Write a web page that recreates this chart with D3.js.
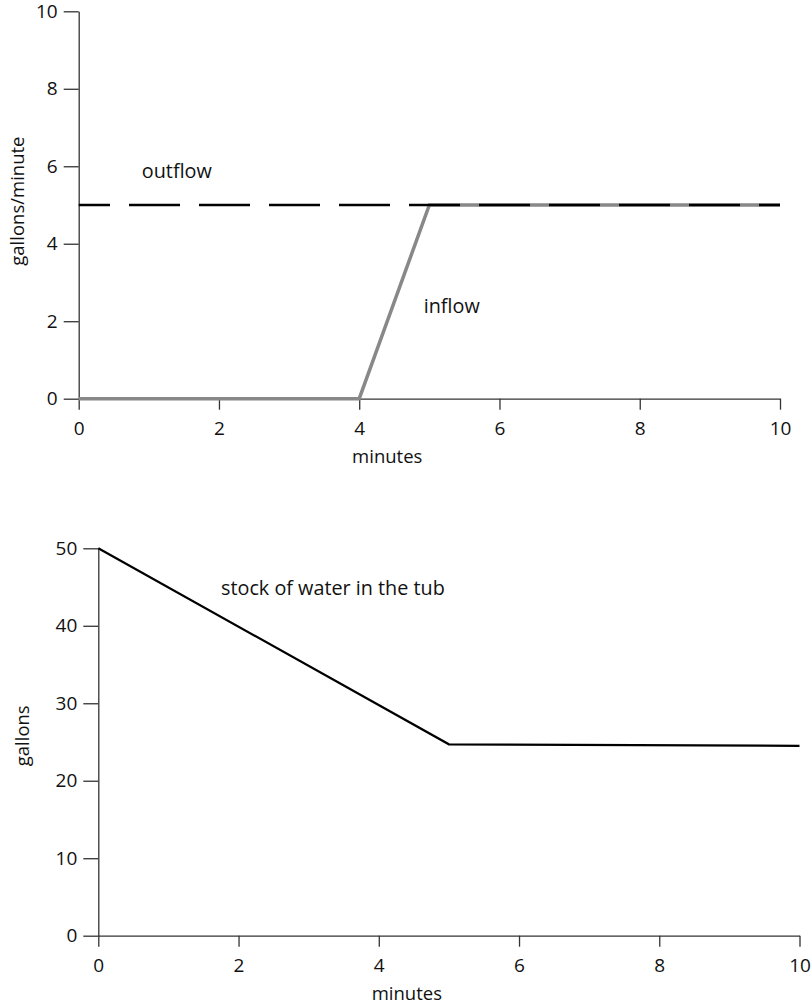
<!DOCTYPE html>
<html>
<head>
<meta charset="utf-8">
<script src="https://cdn.jsdelivr.net/npm/d3@7"></script>
<style>
  body { margin: 0; background: #fff; }
  svg text { font-family: "Open Sans", Lato, sans-serif; fill: #111; }
  .axis path, .axis line { stroke: #333; stroke-width: 1.3; }
</style>
</head>
<body>
<div class="chart"></div>
<script>
// data
var minutes = [0, 4, 5, 10];
var inflow = [0, 0, 5, 5];
var outflowMinutes = [0, 10];
var outflow = [5, 5];
var stockMinutes = [0, 5, 10];
var stockGallons = [50, 24.7, 24.5];
var xTicks = [0, 2, 4, 6, 8, 10];
var flowTicks = [0, 2, 4, 6, 8, 10];
var stockTicks = [0, 10, 20, 30, 40, 50];

var tickFont = 19, titleFont = 18.5, noteFont = 19.8;

var svg = d3.select('div.chart').append('svg')
  .attr('width', 812).attr('height', 1006);

// ---- top chart: flows
var x1 = d3.scaleLinear().domain([0, 10]).range([78.7, 780]);
var y1 = d3.scaleLinear().domain([0, 10]).range([398.7, 11.3]);

svg.append('g').attr('class', 'axis')
  .attr('transform', 'translate(0,' + y1(0) + ')')
  .call(d3.axisBottom(x1).tickValues(xTicks).tickSize(11).tickPadding(12).tickSizeOuter(0))
  .call(function(g) { g.selectAll('text').attr('font-size', tickFont); });

svg.append('g').attr('class', 'axis')
  .attr('transform', 'translate(' + x1(0) + ',0)')
  .call(d3.axisLeft(y1).tickValues(flowTicks).tickSize(15).tickPadding(6).tickSizeOuter(0))
  .call(function(g) { g.selectAll('text').attr('font-size', tickFont); });

var flowIn = minutes.map(function(m, i) { return [m, inflow[i]]; });
var flowOut = outflowMinutes.map(function(m, i) { return [m, outflow[i]]; });
var line1 = d3.line().x(function(d) { return x1(d[0]); }).y(function(d) { return y1(d[1]); });

svg.append('path').datum(flowIn).attr('d', line1)
  .attr('fill', 'none').attr('stroke', '#888').attr('stroke-width', 3.5);

svg.append('path').datum(flowOut).attr('d', line1)
  .attr('fill', 'none').attr('stroke', '#000').attr('stroke-width', 2.6)
  .attr('stroke-dasharray', '51,19').attr('stroke-dashoffset', 19.7);

svg.append('text').attr('x', x1(0.9)).attr('y', y1(5.7)).attr('font-size', noteFont).text('outflow');
svg.append('text').attr('x', x1(4.92)).attr('y', y1(2.2)).attr('font-size', noteFont).text('inflow');

svg.append('text').attr('x', x1(4.4)).attr('y', y1(0) + 64)
  .attr('text-anchor', 'middle').attr('font-size', titleFont).text('minutes');
svg.append('text')
  .attr('transform', 'translate(24,' + y1(5.1) + ') rotate(-90)')
  .attr('text-anchor', 'middle').attr('font-size', titleFont).text('gallons/minute');

// ---- bottom chart: stock
var x2 = d3.scaleLinear().domain([0, 10]).range([98.3, 799.5]);
var y2 = d3.scaleLinear().domain([0, 50]).range([935.7, 548.3]);

svg.append('g').attr('class', 'axis')
  .attr('transform', 'translate(0,' + y2(0) + ')')
  .call(d3.axisBottom(x2).tickValues(xTicks).tickSize(11).tickPadding(12).tickSizeOuter(0))
  .call(function(g) { g.selectAll('text').attr('font-size', tickFont); });

svg.append('g').attr('class', 'axis')
  .attr('transform', 'translate(' + x2(0) + ',0)')
  .call(d3.axisLeft(y2).tickValues(stockTicks).tickSize(15).tickPadding(6).tickSizeOuter(0))
  .call(function(g) { g.selectAll('text').attr('font-size', tickFont); });

var stock = stockMinutes.map(function(m, i) { return [m, stockGallons[i]]; });
var line2 = d3.line().x(function(d) { return x2(d[0]); }).y(function(d) { return y2(d[1]); });

svg.append('path').datum(stock).attr('d', line2)
  .attr('fill', 'none').attr('stroke', '#000').attr('stroke-width', 2.2);

svg.append('text').attr('x', x2(1.75)).attr('y', y2(44)).attr('font-size', noteFont)
  .text('stock of water in the tub');

svg.append('text').attr('x', x2(4.4)).attr('y', y2(0) + 64)
  .attr('text-anchor', 'middle').attr('font-size', titleFont).text('minutes');
svg.append('text')
  .attr('transform', 'translate(29,' + y2(25.8) + ') rotate(-90)')
  .attr('text-anchor', 'middle').attr('font-size', titleFont).text('gallons');
</script>
</body>
</html>
